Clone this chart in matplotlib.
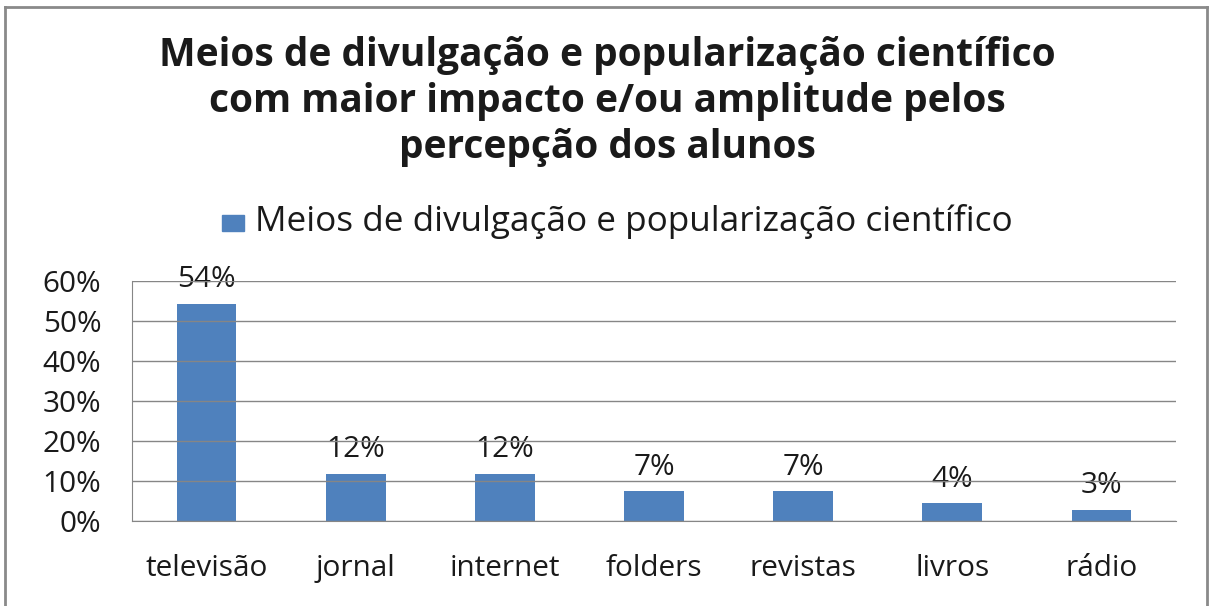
import matplotlib
matplotlib.use("Agg")
import matplotlib.pyplot as plt
from matplotlib.patches import Rectangle
from matplotlib.lines import Line2D
from matplotlib.ticker import FuncFormatter

categories = ["televisão", "jornal", "internet", "folders", "revistas", "livros", "rádio"]
values = [0.542, 0.118, 0.118, 0.074, 0.074, 0.044, 0.028]
labels = ["54%", "12%", "12%", "7%", "7%", "4%", "3%"]
title_lines = ["Meios de divulgação e popularização científico",
               "com maior impacto e/ou amplitude pelos",
               "percepção dos alunos"]
series_name = "Meios de divulgação e popularização científico"

FONT = "Open Sans"
BAR = "#4F81BD"
GRID = "#868686"
TXT = "#1a1a1a"

W, H = 1212, 606
fig = plt.figure(figsize=(W / 100, H / 100), dpi=100)
fig.patch.set_facecolor("white")
renderer = fig.canvas.get_renderer()

def fx(x): return x / W
def fy(y): return 1 - y / H

def fit(text_obj, target_px):
    bb = text_obj.get_window_extent(renderer=renderer)
    text_obj.set_fontsize(text_obj.get_fontsize() * target_px / bb.width)
    return text_obj.get_fontsize()

# outer border
for (x0, y0, x1, y1) in [(5, 7, 1207, 7), (5, 7, 5, 606), (1207, 7, 1207, 606)]:
    fig.add_artist(Line2D([fx(x0), fx(x1)], [fy(y0), fy(y1)], color="#8a8a8a", lw=2.0,
                          transform=fig.transFigure))

# title lines
baselines = [66, 112.5, 158]
t0 = fig.text(fx(607), fy(baselines[0]), title_lines[0], ha="center", va="baseline",
              fontsize=24, fontweight="bold", family=FONT, color=TXT)
tsize = fit(t0, 900)
for line, b in zip(title_lines[1:], baselines[1:]):
    fig.text(fx(607), fy(b), line, ha="center", va="baseline", fontsize=tsize,
             fontweight="bold", family=FONT, color=TXT)

# legend
fig.add_artist(Rectangle((fx(222), fy(231)), fx(244) - fx(222), fy(215) - fy(231),
                         color=BAR, transform=fig.transFigure))
lt = fig.text(fx(255), fy(231), series_name, ha="left", va="baseline", fontsize=20,
              family=FONT, color=TXT)
fit(lt, 755)

ax = fig.add_axes([fx(132), fy(521), fx(1176) - fx(132), fy(281) - fy(521)])
x = range(len(categories))
ax.bar(x, values, width=0.4, color=BAR, zorder=2)
ax.set_xlim(-0.5, len(categories) - 0.5)
ax.set_ylim(0, 0.6)
ax.set_yticks([0, 0.1, 0.2, 0.3, 0.4, 0.5, 0.6])
ax.yaxis.set_major_formatter(FuncFormatter(lambda v, p: f"{v*100:.0f}%"))
ax.grid(axis="y", color=GRID, lw=1.0, zorder=3)
ax.set_axisbelow(False)
for s in ["top", "right"]:
    ax.spines[s].set_visible(False)
for s in ["left", "bottom"]:
    ax.spines[s].set_color(GRID)
    ax.spines[s].set_zorder(4)

# size tick font from the width of "televisão"
probe = fig.text(0, 0, categories[0], fontsize=16, family=FONT)
tick_size = fit(probe, 123)
probe.remove()

ax.tick_params(axis="y", length=0, pad=22, labelsize=tick_size, labelcolor=TXT)
ax.tick_params(axis="x", length=0, pad=24, labelsize=tick_size, labelcolor=TXT)
ax.set_xticks(list(x))
ax.set_xticklabels(categories)
for lab in ax.get_xticklabels() + ax.get_yticklabels():
    lab.set_family(FONT)

for xi, v, lb in zip(x, values, labels):
    ax.annotate(lb, (xi, v), xytext=(0, 7), textcoords="offset points",
                ha="center", va="bottom", fontsize=tick_size, family=FONT, color=TXT, zorder=1)

fig.savefig("out.png", dpi=100)
